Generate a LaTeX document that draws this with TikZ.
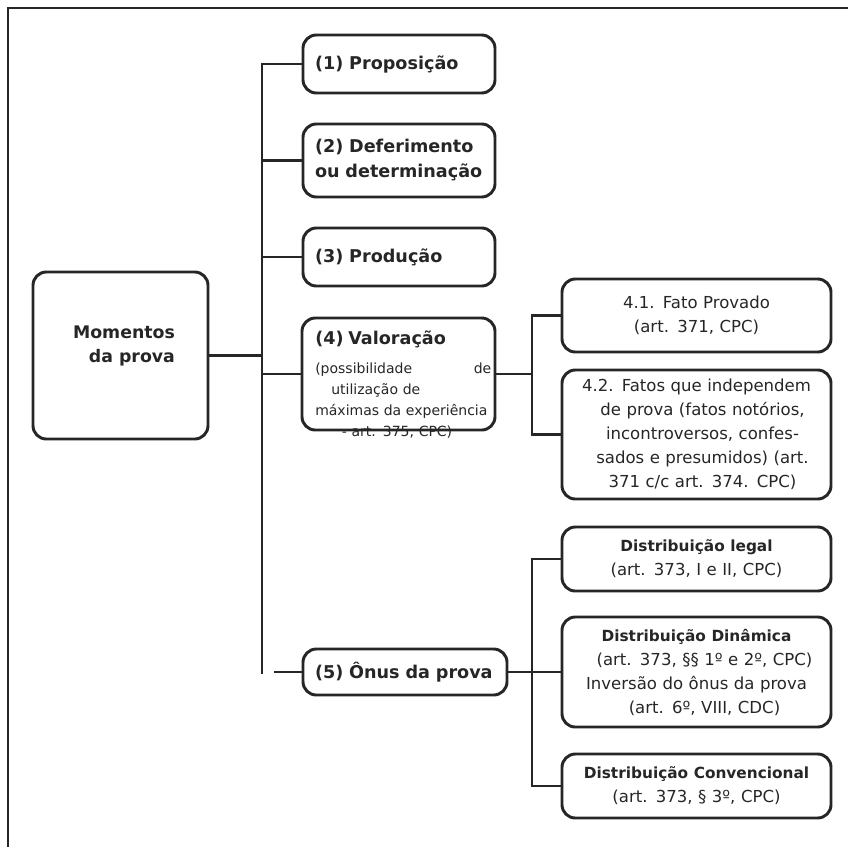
\documentclass[tikz,border=0pt]{standalone}
\usepackage{fontspec}
\setmainfont{DejaVu Sans}
\usepackage{tikz}
\definecolor{ink}{HTML}{262626}

\begin{document}
\begin{tikzpicture}[x=0.75pt,y=-0.75pt,
    box/.style={draw=ink,line width=2.2pt,rounded corners=10pt,text=ink},
    mainbox/.style={box,minimum width=144pt,minimum height=#1,inner xsep=9pt,text width=126pt,align=left,
        font=\bfseries\fontsize{13.2}{18.75}\selectfont},
    subbox/.style={box,minimum width=201.75pt,minimum height=#1,text width=190pt,align=center,
        font=\fontsize{12.4}{18}\selectfont},
    link/.style={draw=ink,line width=2.2pt},
    borderline/.style={draw=ink,line width=1.5pt}]
    \useasboundingbox (0,0) rectangle (848,847);

    % Draw the outer frame
    \draw[borderline] (848,8) -- (8,8) -- (8,847);

    % Draw the root box
    \node[box,minimum width=131.25pt,minimum height=125.25pt] (root) at (120.5,355.5) {};
    \node[inner sep=0pt,align=right,text=ink,font=\bfseries\fontsize{13}{18}\selectfont] (rootlabel) at (124,346) {Momentos\\da prova};

    % Draw the five moments
    \node[mainbox=43.5pt] (b1) at (399,64) {(1) Proposição};
    \node[mainbox=54.75pt] (b2) at (399,160.5) {(2) Deferimento\\ou determinação};
    \node[mainbox=43.5pt] (b3) at (399,257) {(3) Produção};
    \node[box,minimum width=144.75pt,minimum height=84pt] (val) at (398.5,374) {};
    \node[anchor=north west,inner sep=0pt,text width=132pt,align=left,text=ink,
        font=\fontsize{10.5}{15.75}\selectfont] (valtext) at (315,331)
        {{\bfseries\fontsize{13.2}{15.75}\selectfont (4) Valoração}\\[6pt]
         (possibilidade\hfill de\\
         \hspace*{12pt}utilização de\\
         máximas da experiência\\
         \hspace*{20pt}- art. 375, CPC)};
    \node[mainbox=34.5pt,minimum width=153pt,text width=135pt] (b5) at (405,672) {(5) Ônus da prova};

    % Draw the boxes of the valuation
    \node[subbox=54.75pt] (b41) at (696.5,315.5) {4.1. Fato Provado\\(art. 371, CPC)};
    \node[subbox=96.75pt] (b42) at (696.5,434.5) {4.2. Fatos que independem\\
        \hspace*{9pt}de prova (fatos notórios,\\
        \hspace*{9pt}incontroversos, confes-\\
        \hspace*{9pt}sados e presumidos) (art.\\
        \hspace*{9pt}371 c/c art. 374. CPC)};

    % Draw the boxes of the burden of proof
    \node[subbox=48pt] (dlegal) at (696.5,559) {{\bfseries\fontsize{11.5}{18}\selectfont Distribuição legal}\\(art. 373, I e II, CPC)};
    \node[subbox=82.5pt] (dinam) at (696.5,672) {{\bfseries\fontsize{11.5}{18}\selectfont Distribuição Dinâmica}\\
        \hspace*{12pt}(art. 373, §§ 1º e 2º, CPC)\\
        Inversão do ônus da prova\\
        \hspace*{12pt}(art. 6º, VIII, CDC)};
    \node[subbox=48pt] (dconv) at (696.5,786) {{\bfseries\fontsize{11.5}{18}\selectfont Distribuição Convencional}\\(art. 373, § 3º, CPC)};

    % Draw the connectors
    \coordinate (trunkbot) at (262,674);
    \coordinate (b5stub) at (274,672);
    \coordinate (sub4) at (532,374);
    \coordinate (sub5) at (532,672);
    \draw[link] (b1.west) -| (trunkbot);
    \draw[link] (root.east) -- (root.east -| trunkbot);
    \foreach \b in {b2,b3,val}
        \draw[link] (\b.west) -- (\b.west -| trunkbot);
    \draw[link] (b5.west) -- (b5stub);
    \draw[link] (b41.west) -| (sub4) |- (b42.west);
    \draw[link] (val.east) -- (sub4);
    \draw[link] (dlegal.west) -| (sub5) |- (dconv.west);
    \draw[link] (dinam.west) -- (sub5);
    \draw[link] (b5.east) -- (sub5);
\end{tikzpicture}
\end{document}
